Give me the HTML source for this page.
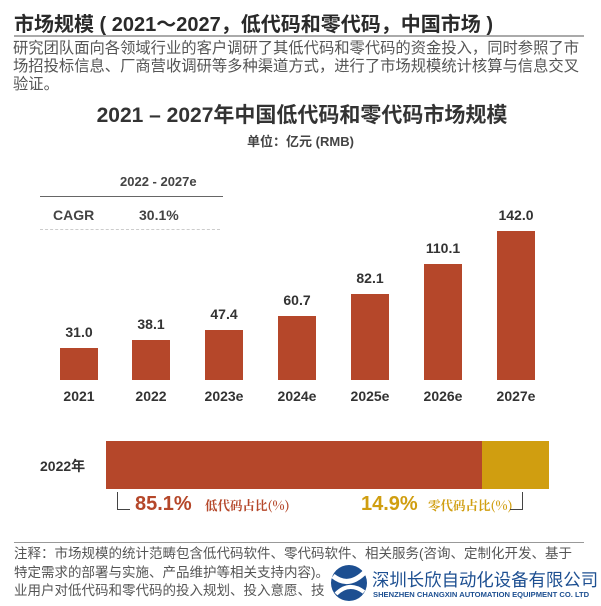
<!DOCTYPE html><html><head><meta charset="utf-8"><style>
body{margin:0;width:601px;height:606px;background:#fff;font-family:"Liberation Sans","Noto Sans CJK SC",sans-serif;position:relative;overflow:hidden;color:#333}
.a{position:absolute;white-space:nowrap}
.bar{position:absolute;background:#B5472A;width:38px}
.v{position:absolute;width:60px;text-align:center;font-weight:bold;font-size:14px;color:#333}
.y{position:absolute;width:70px;text-align:center;font-weight:bold;font-size:14px;color:#333;top:388px}
</style></head><body>
<div class="a" style="left:14px;top:8px;font-size:20px;font-weight:bold;color:#2a2a2a">市场规模 ( 2021～2027，低代码和零代码，中国市场 )</div>
<div class="a" style="left:14px;top:35px;width:570px;height:2px;background:#aaa"></div>
<div class="a" style="left:13px;top:40px;font-size:15.3px;line-height:18px;color:#555">研究团队面向各领域行业的客户调研了其低代码和零代码的资金投入，同时参照了市<br>场招投标信息、厂商营收调研等多种渠道方式，进行了市场规模统计核算与信息交叉<br>验证。</div>
<div class="a" style="left:0;width:604px;text-align:center;top:99px;font-size:21px;font-weight:bold;color:#333">2021 – 2027年中国低代码和零代码市场规模</div>
<div class="a" style="left:0;width:601px;text-align:center;top:131px;font-size:13px;font-weight:bold;color:#444">单位：亿元 (RMB)</div>
<div class="a" style="left:120px;top:174px;font-size:13px;font-weight:bold;color:#444">2022 - 2027e</div>
<div class="a" style="left:40px;top:196px;width:183px;height:1px;background:#666"></div>
<div class="a" style="left:53px;top:207px;font-size:14px;font-weight:bold;color:#444">CAGR</div>
<div class="a" style="left:139px;top:207px;font-size:14px;font-weight:bold;color:#444">30.1%</div>
<div class="a" style="left:40px;top:229px;width:180px;border-top:1px dashed #ccc"></div>

<div class="bar" style="left:60px;top:348px;height:32px"></div><div class="v" style="left:49px;top:324px">31.0</div><div class="y" style="left:44px">2021</div>
<div class="bar" style="left:132px;top:340px;height:40px"></div><div class="v" style="left:121px;top:316px">38.1</div><div class="y" style="left:116px">2022</div>
<div class="bar" style="left:205px;top:330px;height:50px"></div><div class="v" style="left:194px;top:306px">47.4</div><div class="y" style="left:189px">2023e</div>
<div class="bar" style="left:278px;top:316px;height:64px"></div><div class="v" style="left:267px;top:292px">60.7</div><div class="y" style="left:262px">2024e</div>
<div class="bar" style="left:351px;top:294px;height:86px"></div><div class="v" style="left:340px;top:270px">82.1</div><div class="y" style="left:335px">2025e</div>
<div class="bar" style="left:424px;top:264px;height:116px"></div><div class="v" style="left:413px;top:240px">110.1</div><div class="y" style="left:408px">2026e</div>
<div class="bar" style="left:497px;top:231px;height:149px"></div><div class="v" style="left:486px;top:207px">142.0</div><div class="y" style="left:481px">2027e</div>

<div class="a" style="left:40px;top:456px;font-size:14px;font-weight:bold;color:#333">2022年</div>
<div class="a" style="left:106px;top:441px;width:376px;height:48px;background:#B5472A"></div>
<div class="a" style="left:482px;top:441px;width:67px;height:48px;background:#D09E10"></div>
<div class="a" style="left:117px;top:492px;width:12px;height:17px;border-left:1px solid #444;border-bottom:1px solid #444"></div>
<div class="a" style="left:135px;top:493px;font-size:20px;font-weight:bold;color:#B5472A">85.1%</div>
<div class="a" style="left:205px;top:496px;font-size:12.5px;font-weight:bold;color:#B5472A;font-family:'Noto Serif CJK SC','Liberation Serif',serif">低代码占比(%)</div>
<div class="a" style="left:361px;top:493px;font-size:20px;font-weight:bold;color:#D09E10">14.9%</div>
<div class="a" style="left:428px;top:496px;font-size:12.5px;font-weight:bold;color:#D09E10;font-family:'Noto Serif CJK SC','Liberation Serif',serif">零代码占比(%)</div>
<div class="a" style="left:510px;top:492px;width:12px;height:17px;border-right:1px solid #444;border-bottom:1px solid #444"></div>

<div class="a" style="left:14px;top:542px;width:570px;height:1px;background:#999"></div>
<div class="a" style="left:14px;top:545px;font-size:13.5px;line-height:18.5px;color:#555">注释：市场规模的统计范畴包含低代码软件、零代码软件、相关服务(咨询、定制化开发、基于<br>特定需求的部署与实施、产品维护等相关支持内容)。<br>业用户对低代码和零代码的投入规划、投入意愿、技</div>
<div class="a" style="left:327px;top:564px;width:274px;height:42px;background:#fff"></div>
<svg class="a" style="left:330px;top:563px" width="38" height="40"><circle cx="19" cy="20" r="18" fill="#1d4f91"/><path d="M3 13 Q19 26 36 8" stroke="#fff" stroke-width="5" fill="none"/><path d="M6 31 Q19 18 34 29" stroke="#fff" stroke-width="4" fill="none"/></svg>
<div class="a" style="left:372px;top:567px;font-size:17.4px;color:#1d4f91">深圳长欣自动化设备有限公司</div>
<div class="a" style="left:373px;top:590px;font-size:7.6px;color:#1d4f91;font-weight:bold">SHENZHEN CHANGXIN AUTOMATION EQUIPMENT CO. LTD</div>
</body></html>
